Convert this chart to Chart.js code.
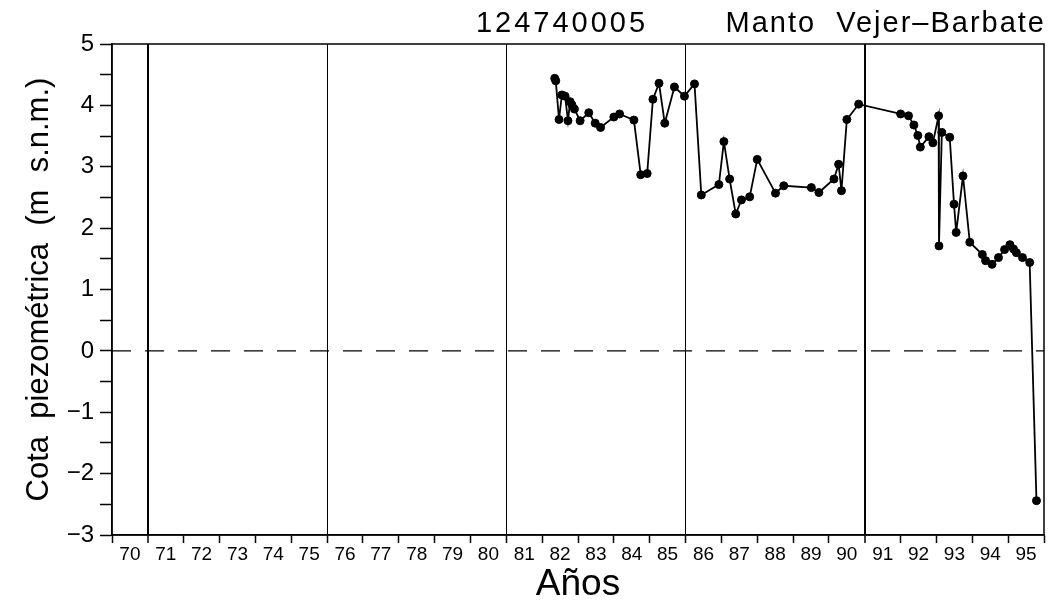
<!DOCTYPE html>
<html>
<head>
<meta charset="utf-8">
<script src="https://cdn.jsdelivr.net/npm/chart.js@4"></script>
<style>
  html, body { margin: 0; padding: 0; background: #fff; }
  #wrap { width: 1053px; height: 609px; }
</style>
</head>
<body>
<div id="wrap"><canvas id="cotaChart"></canvas></div>
<script>
// measurement dates (decimal years) and piezometric level (m s.n.m.)
const years = [
  1982.35, 1982.38, 1982.47, 1982.55, 1982.64, 1982.72, 1982.78, 1982.83, 1982.90,
  1983.06, 1983.30, 1983.48, 1983.63, 1984.00, 1984.16, 1984.56, 1984.75, 1984.93,
  1985.09, 1985.26, 1985.42, 1985.69, 1985.97, 1986.25, 1986.44, 1986.93, 1987.07,
  1987.23, 1987.40, 1987.56, 1987.79, 1988.00, 1988.51, 1988.74, 1989.51, 1989.72,
  1990.14, 1990.27, 1990.35, 1990.50, 1990.83, 1992.00, 1992.22, 1992.37, 1992.48,
  1992.55, 1992.79, 1992.90, 1993.06, 1993.07, 1993.15, 1993.37, 1993.49, 1993.55,
  1993.74, 1993.93, 1994.28, 1994.37, 1994.55, 1994.73, 1994.90, 1995.05, 1995.15,
  1995.23, 1995.40, 1995.60, 1995.79
];
const cota = [
  4.44, 4.40, 3.77, 4.17, 4.15, 3.75, 4.06, 4.01, 3.94,
  3.75, 3.88, 3.71, 3.64, 3.81, 3.86, 3.76, 2.87, 2.89,
  4.10, 4.36, 3.71, 4.30, 4.15, 4.35, 2.54, 2.71, 3.41,
  2.80, 2.23, 2.46, 2.51, 3.12, 2.57, 2.69, 2.66, 2.58,
  2.80, 3.04, 2.61, 3.77, 4.02, 3.86, 3.83, 3.68, 3.51,
  3.32, 3.49, 3.39, 3.83, 1.71, 3.56, 3.48, 2.39, 1.93,
  2.85, 1.77, 1.57, 1.47, 1.41, 1.52, 1.65, 1.73, 1.66,
  1.60, 1.52, 1.44, -2.44
];
const xRange = [1970, 1996];
const yRange = [-3, 5];
const zeroLine = [0, 0];
const dividerYears = [1971, 1976, 1981, 1986, 1991];

const FONT = "'Liberation Sans', 'DejaVu Sans', sans-serif";

// frame round the plot + the two header texts
const framePlugin = {
    id: 'frame',
    afterDraw(chart) {
        const {ctx, chartArea: a} = chart;
        ctx.save();
        ctx.strokeStyle = '#000';
        ctx.lineWidth = 1.5;
        ctx.strokeRect(a.left, a.top, a.right - a.left, a.bottom - a.top);
        ctx.fillStyle = '#000';
        ctx.font = '29px ' + FONT;
        ctx.letterSpacing = '3px';
        ctx.textBaseline = 'alphabetic';
        ctx.textAlign = 'center';
        ctx.fillText('124740005', 562, 32);
        ctx.textAlign = 'right';
        ctx.letterSpacing = '2px';
        ctx.fillText('Manto  Vejer\u2013Barbate', a.right + 2, 32);
        ctx.restore();
    }
};

document.addEventListener('DOMContentLoaded', function () {
    let ctx = document.getElementById('cotaChart').getContext('2d');

    let cotaData = {
        datasets: [{
            label: 'Cota',
            data: years.map((x, i) => ({x: x, y: cota[i]})),
            borderColor: '#000',
            backgroundColor: '#000',
            borderWidth: 1.8,
            pointRadius: 4,
            pointBorderWidth: 1,
            pointBackgroundColor: '#000',
            tension: 0
        }, {
            label: 'cero',
            data: xRange.map((x, i) => ({x: x, y: zeroLine[i]})),
            borderColor: '#000',
            borderWidth: 1.3,
            borderDash: [19, 14],
            pointRadius: 0
        }]
    };

    new Chart(ctx, {
        type: 'line',
        data: cotaData,
        plugins: [framePlugin],
        options: {
            responsive: true,
            maintainAspectRatio: false,
            animation: false,
            layout: {
                padding: {top: 44, right: 9, left: 0, bottom: 0}
            },
            plugins: {
                legend: {display: false},
                tooltip: {enabled: false}
            },
            scales: {
                x: {
                    type: 'linear',
                    min: xRange[0],
                    max: xRange[1],
                    afterFit: function (scale) { scale.height = 74; },
                    grid: {
                        drawOnChartArea: true,
                        tickLength: 8,
                        color: function (c) {
                            if (!c.tick) return 'rgba(0,0,0,0)';
                            return dividerYears.includes(c.tick.value) ? '#000' : 'rgba(0,0,0,0)';
                        },
                        lineWidth: function (c) {
                            if (!c.tick) return 1;
                            return (c.tick.value === 1971 || c.tick.value === 1991) ? 2 : 1;
                        },
                        tickColor: function (c) {
                            return (c.tick && Number.isInteger(c.tick.value)) ? '#000' : 'rgba(0,0,0,0)';
                        },
                        tickWidth: 1.5
                    },
                    border: {display: true, color: '#000', width: 1.5},
                    ticks: {
                        stepSize: 0.5,
                        maxTicksLimit: 200,
                        autoSkip: false,
                        maxRotation: 0,
                        padding: 0,
                        color: '#000',
                        font: {family: FONT, size: 19},
                        callback: function (v) {
                            return Number.isInteger(v) ? '' : String(Math.floor(v) - 1900);
                        }
                    },
                    title: {
                        display: true,
                        text: 'Años',
                        color: '#000',
                        font: {family: FONT, size: 37},
                        padding: {top: 0, bottom: 2}
                    }
                },
                y: {
                    min: yRange[0],
                    max: yRange[1],
                    afterFit: function (scale) { scale.width = 112; },
                    grid: {
                        drawOnChartArea: false,
                        tickLength: 12,
                        tickColor: '#000',
                        tickWidth: 1.5
                    },
                    border: {display: true, color: '#000', width: 1.5},
                    ticks: {
                        stepSize: 0.5,
                        autoSkip: false,
                        padding: 6,
                        color: '#000',
                        font: {family: FONT, size: 24},
                        callback: function (v) {
                            return Number.isInteger(v) ? (v < 0 ? '\u2212' + Math.abs(v) : String(v)) : '';
                        }
                    },
                    title: {
                        display: true,
                        text: 'Cota  piezométrica  (m  s.n.m.)',
                        color: '#000',
                        font: {family: FONT, size: 31},
                        padding: {top: 21, bottom: 0}
                    }
                }
            }
        }
    });
});
</script>
</body>
</html>
